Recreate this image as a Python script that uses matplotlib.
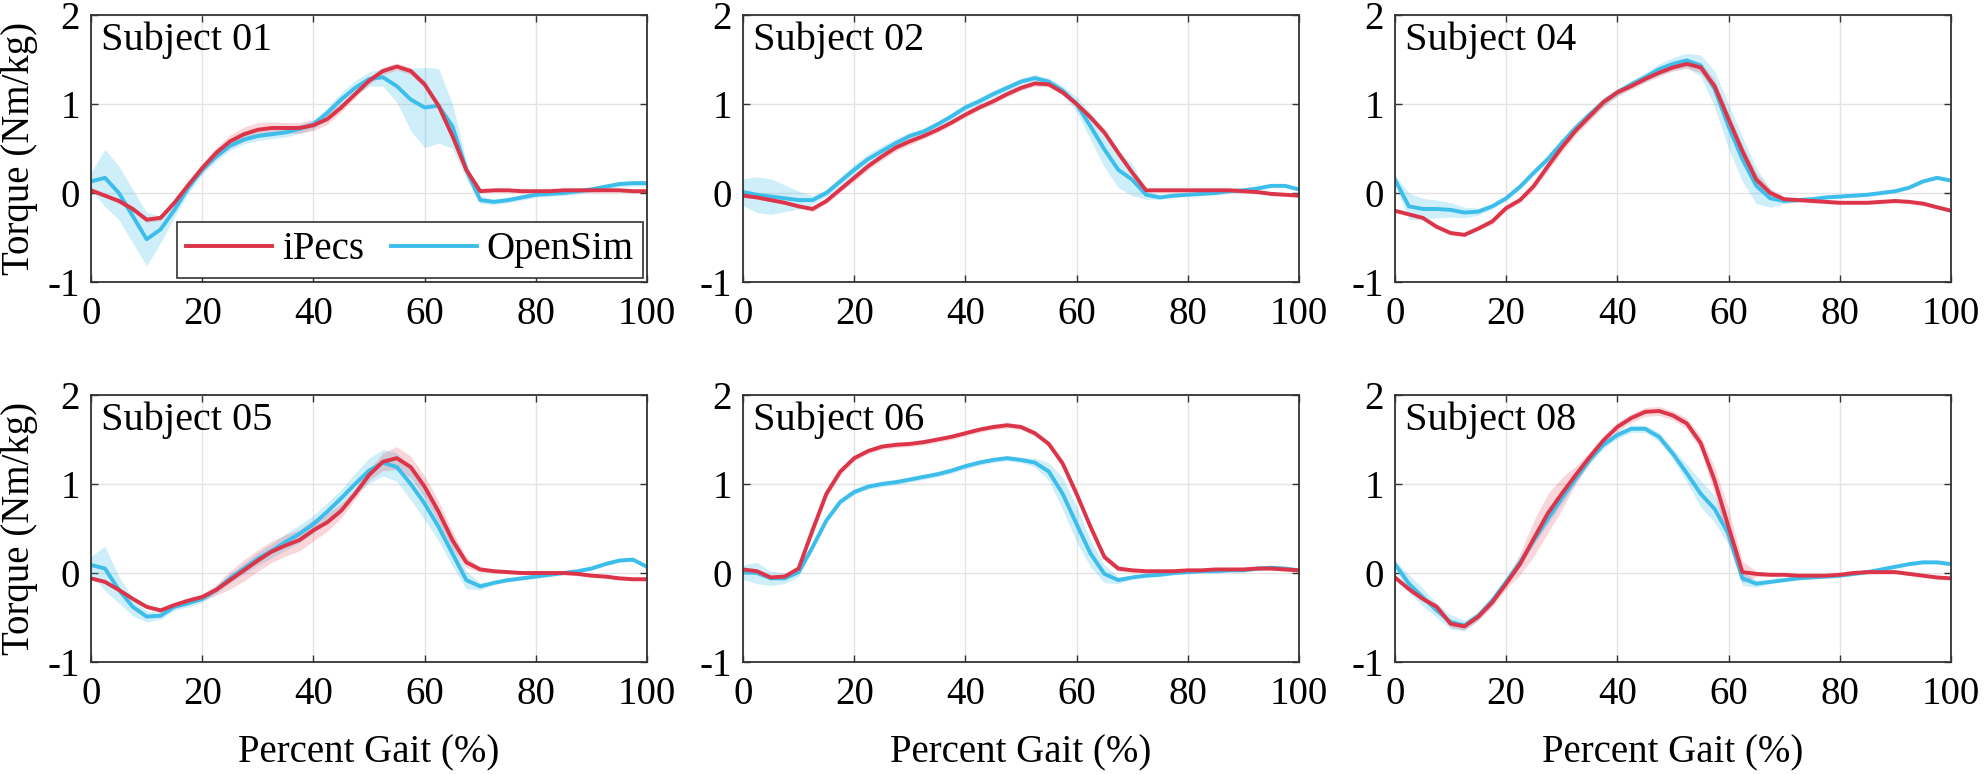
import numpy as np
import matplotlib
matplotlib.use("Agg")
import matplotlib.pyplot as plt

plt.rcParams['font.family'] = ['Liberation Serif', 'DejaVu Serif']
plt.rcParams['font.size'] = 28
plt.rcParams['axes.unicode_minus'] = False

# percent gait grid
pct = [0, 2.5, 5, 7.5, 10, 12.5, 15, 17.5, 20, 22.5,
       25, 27.5, 30, 32.5, 35, 37.5, 40, 42.5, 45, 47.5,
       50, 52.5, 55, 57.5, 60, 62.5, 65, 67.5, 70, 72.5,
       75, 77.5, 80, 82.5, 85, 87.5, 90, 92.5, 95, 97.5,
       100]

subjects = ["Subject 01", "Subject 02", "Subject 04",
            "Subject 05", "Subject 06", "Subject 08"]

# iPecs mean torque (Nm/kg)
ipecs_01 = [0.03, -0.03, -0.09, -0.18, -0.30, -0.28, -0.11, 0.09, 0.28, 0.45,
            0.58, 0.66, 0.71, 0.73, 0.73, 0.73, 0.76, 0.83, 0.96, 1.11,
            1.26, 1.37, 1.42, 1.37, 1.22, 0.98, 0.64, 0.26, 0.02, 0.03,
            0.03, 0.02, 0.02, 0.02, 0.03, 0.03, 0.03, 0.03, 0.03, 0.02,
            0.02]
ipecs_02 = [-0.03, -0.05, -0.08, -0.11, -0.15, -0.18, -0.09, 0.04, 0.17, 0.30,
            0.41, 0.51, 0.58, 0.64, 0.71, 0.79, 0.88, 0.96, 1.03, 1.11,
            1.18, 1.23, 1.22, 1.13, 1.00, 0.85, 0.68, 0.45, 0.23, 0.03,
            0.03, 0.03, 0.03, 0.03, 0.03, 0.03, 0.02, 0.01, -0.01, -0.02,
            -0.03]
ipecs_04 = [-0.20, -0.24, -0.28, -0.38, -0.45, -0.47, -0.40, -0.32, -0.17, -0.08,
            0.08, 0.30, 0.51, 0.70, 0.86, 1.02, 1.13, 1.20, 1.28, 1.35,
            1.41, 1.45, 1.41, 1.20, 0.83, 0.47, 0.15, 0.00, -0.07, -0.08,
            -0.09, -0.10, -0.11, -0.11, -0.11, -0.10, -0.09, -0.10, -0.12, -0.16,
            -0.20]
ipecs_05 = [-0.06, -0.10, -0.19, -0.29, -0.38, -0.42, -0.36, -0.31, -0.27, -0.19,
            -0.08, 0.03, 0.14, 0.24, 0.31, 0.37, 0.48, 0.57, 0.70, 0.89,
            1.10, 1.25, 1.29, 1.19, 0.97, 0.69, 0.37, 0.12, 0.04, 0.02,
            0.01, 0.00, 0.00, 0.00, 0.00, -0.01, -0.03, -0.04, -0.06, -0.07,
            -0.07]
ipecs_06 = [0.04, 0.02, -0.05, -0.04, 0.05, 0.48, 0.89, 1.14, 1.29, 1.37,
            1.42, 1.44, 1.45, 1.47, 1.50, 1.53, 1.57, 1.61, 1.64, 1.66,
            1.64, 1.57, 1.45, 1.23, 0.89, 0.52, 0.18, 0.05, 0.03, 0.02,
            0.02, 0.02, 0.03, 0.03, 0.04, 0.04, 0.04, 0.05, 0.05, 0.04,
            0.03]
ipecs_08 = [-0.05, -0.18, -0.29, -0.38, -0.57, -0.60, -0.49, -0.33, -0.12, 0.10,
            0.39, 0.67, 0.89, 1.10, 1.30, 1.49, 1.64, 1.74, 1.81, 1.82,
            1.77, 1.68, 1.46, 1.04, 0.52, 0.01, -0.01, -0.02, -0.02, -0.03,
            -0.03, -0.03, -0.02, 0.00, 0.01, 0.01, 0.01, -0.01, -0.03, -0.05,
            -0.06]

# OpenSim mean torque (Nm/kg)
osim_01 = [0.13, 0.17, 0.00, -0.26, -0.52, -0.41, -0.19, 0.06, 0.26, 0.41,
           0.53, 0.60, 0.64, 0.66, 0.68, 0.72, 0.77, 0.90, 1.05, 1.18,
           1.28, 1.30, 1.20, 1.05, 0.96, 0.98, 0.75, 0.26, -0.08, -0.10,
           -0.08, -0.05, -0.02, -0.01, 0.00, 0.02, 0.04, 0.07, 0.10, 0.11,
           0.11]
osim_02 = [0.01, -0.02, -0.04, -0.06, -0.08, -0.08, 0.00, 0.13, 0.26, 0.38,
           0.47, 0.56, 0.64, 0.69, 0.77, 0.86, 0.96, 1.03, 1.11, 1.18,
           1.25, 1.29, 1.25, 1.15, 1.00, 0.75, 0.49, 0.26, 0.15, -0.02,
           -0.05, -0.03, -0.02, -0.01, 0.00, 0.02, 0.03, 0.05, 0.08, 0.08,
           0.04]
osim_04 = [0.15, -0.15, -0.18, -0.18, -0.19, -0.22, -0.21, -0.15, -0.06, 0.07,
           0.23, 0.38, 0.56, 0.73, 0.88, 1.02, 1.13, 1.22, 1.30, 1.39,
           1.45, 1.49, 1.43, 1.17, 0.75, 0.38, 0.08, -0.06, -0.09, -0.08,
           -0.07, -0.05, -0.04, -0.03, -0.02, 0.00, 0.02, 0.06, 0.13, 0.17,
           0.14]
osim_05 = [0.09, 0.05, -0.19, -0.38, -0.49, -0.48, -0.38, -0.34, -0.29, -0.19,
           -0.06, 0.05, 0.16, 0.25, 0.35, 0.44, 0.55, 0.69, 0.84, 1.00,
           1.15, 1.24, 1.19, 1.00, 0.78, 0.52, 0.22, -0.08, -0.15, -0.11,
           -0.08, -0.06, -0.04, -0.02, 0.00, 0.02, 0.05, 0.10, 0.14, 0.15,
           0.07]
osim_06 = [0.01, 0.00, -0.06, -0.06, 0.01, 0.29, 0.59, 0.80, 0.91, 0.97,
           1.00, 1.02, 1.05, 1.08, 1.11, 1.15, 1.20, 1.24, 1.27, 1.29,
           1.27, 1.24, 1.14, 0.89, 0.55, 0.22, -0.01, -0.08, -0.05, -0.03,
           -0.02, 0.00, 0.01, 0.02, 0.02, 0.03, 0.03, 0.05, 0.06, 0.05,
           0.03]
osim_08 = [0.10, -0.12, -0.27, -0.42, -0.55, -0.59, -0.48, -0.31, -0.10, 0.12,
           0.37, 0.61, 0.84, 1.06, 1.27, 1.44, 1.55, 1.62, 1.62, 1.53,
           1.34, 1.12, 0.89, 0.72, 0.44, -0.06, -0.12, -0.10, -0.08, -0.06,
           -0.05, -0.04, -0.03, -0.01, 0.01, 0.04, 0.07, 0.10, 0.12, 0.12,
           0.10]

# standard deviation bands
ipecs_sd_01 = [0.02, 0.02, 0.03, 0.03, 0.03, 0.03, 0.03, 0.04, 0.05, 0.06,
               0.07, 0.08, 0.08, 0.07, 0.06, 0.06, 0.06, 0.06, 0.05, 0.04,
               0.04, 0.04, 0.04, 0.04, 0.04, 0.04, 0.04, 0.03, 0.02, 0.02,
               0.02, 0.02, 0.02, 0.02, 0.02, 0.02, 0.02, 0.02, 0.02, 0.02,
               0.02]
ipecs_sd_02 = [0.02, 0.02, 0.02, 0.02, 0.02, 0.03, 0.03, 0.03, 0.04, 0.04,
               0.04, 0.04, 0.04, 0.03, 0.03, 0.03, 0.03, 0.03, 0.03, 0.03,
               0.03, 0.03, 0.03, 0.03, 0.03, 0.04, 0.04, 0.04, 0.03, 0.02,
               0.02, 0.02, 0.02, 0.02, 0.02, 0.02, 0.02, 0.02, 0.02, 0.02,
               0.02]
ipecs_sd_04 = [0.02, 0.02, 0.02, 0.02, 0.02, 0.02, 0.02, 0.03, 0.03, 0.03,
               0.04, 0.05, 0.05, 0.05, 0.05, 0.05, 0.04, 0.04, 0.04, 0.04,
               0.04, 0.05, 0.06, 0.07, 0.07, 0.07, 0.07, 0.05, 0.03, 0.02,
               0.02, 0.02, 0.02, 0.02, 0.02, 0.02, 0.02, 0.02, 0.02, 0.02,
               0.02]
ipecs_sd_05 = [0.02, 0.02, 0.02, 0.02, 0.02, 0.03, 0.03, 0.03, 0.04, 0.06,
               0.10, 0.12, 0.12, 0.12, 0.12, 0.12, 0.12, 0.10, 0.08, 0.06,
               0.06, 0.10, 0.13, 0.12, 0.12, 0.12, 0.10, 0.06, 0.03, 0.02,
               0.02, 0.02, 0.02, 0.02, 0.02, 0.02, 0.02, 0.02, 0.02, 0.02,
               0.02]
ipecs_sd_06 = [0.02, 0.02, 0.02, 0.02, 0.03, 0.05, 0.05, 0.04, 0.03, 0.03,
               0.03, 0.03, 0.03, 0.03, 0.03, 0.03, 0.03, 0.03, 0.03, 0.03,
               0.03, 0.03, 0.03, 0.04, 0.05, 0.05, 0.04, 0.03, 0.02, 0.02,
               0.02, 0.02, 0.02, 0.02, 0.02, 0.02, 0.02, 0.02, 0.02, 0.02,
               0.02]
ipecs_sd_08 = [0.02, 0.03, 0.03, 0.04, 0.04, 0.04, 0.04, 0.05, 0.06, 0.12,
               0.20, 0.22, 0.18, 0.10, 0.06, 0.05, 0.05, 0.05, 0.05, 0.05,
               0.05, 0.06, 0.08, 0.15, 0.20, 0.12, 0.03, 0.02, 0.02, 0.02,
               0.02, 0.02, 0.02, 0.02, 0.02, 0.02, 0.02, 0.02, 0.02, 0.02,
               0.02]

osim_sd_01 = [0.10, 0.32, 0.30, 0.30, 0.30, 0.15, 0.08, 0.06, 0.05, 0.05,
              0.05, 0.05, 0.05, 0.05, 0.05, 0.05, 0.05, 0.06, 0.08, 0.08,
              0.08, 0.10, 0.18, 0.35, 0.45, 0.42, 0.25, 0.10, 0.04, 0.03,
              0.03, 0.03, 0.03, 0.03, 0.03, 0.03, 0.03, 0.03, 0.03, 0.03,
              0.03]
osim_sd_02 = [0.15, 0.20, 0.20, 0.15, 0.10, 0.05, 0.04, 0.05, 0.06, 0.06,
              0.06, 0.05, 0.04, 0.04, 0.04, 0.04, 0.04, 0.04, 0.04, 0.04,
              0.04, 0.04, 0.04, 0.05, 0.08, 0.15, 0.20, 0.20, 0.18, 0.05,
              0.02, 0.02, 0.02, 0.02, 0.02, 0.02, 0.02, 0.02, 0.02, 0.02,
              0.02]
osim_sd_04 = [0.05, 0.15, 0.12, 0.10, 0.08, 0.06, 0.04, 0.03, 0.03, 0.03,
              0.03, 0.05, 0.05, 0.05, 0.05, 0.05, 0.04, 0.04, 0.05, 0.06,
              0.07, 0.08, 0.12, 0.20, 0.25, 0.25, 0.20, 0.10, 0.03, 0.02,
              0.02, 0.02, 0.02, 0.02, 0.02, 0.02, 0.02, 0.02, 0.02, 0.02,
              0.02]
osim_sd_05 = [0.10, 0.25, 0.15, 0.10, 0.06, 0.04, 0.04, 0.04, 0.04, 0.04,
              0.05, 0.06, 0.07, 0.08, 0.09, 0.10, 0.10, 0.10, 0.10, 0.12,
              0.14, 0.15, 0.16, 0.18, 0.18, 0.16, 0.14, 0.10, 0.04, 0.02,
              0.02, 0.02, 0.02, 0.02, 0.02, 0.02, 0.02, 0.02, 0.02, 0.02,
              0.02]
osim_sd_06 = [0.08, 0.12, 0.08, 0.06, 0.05, 0.04, 0.03, 0.03, 0.03, 0.03,
              0.03, 0.03, 0.03, 0.03, 0.03, 0.03, 0.03, 0.03, 0.03, 0.03,
              0.03, 0.05, 0.10, 0.18, 0.20, 0.15, 0.10, 0.04, 0.02, 0.02,
              0.02, 0.02, 0.02, 0.02, 0.02, 0.02, 0.02, 0.02, 0.02, 0.02,
              0.02]
osim_sd_08 = [0.04, 0.10, 0.10, 0.08, 0.08, 0.06, 0.05, 0.05, 0.05, 0.05,
              0.05, 0.06, 0.06, 0.05, 0.05, 0.04, 0.04, 0.04, 0.04, 0.05,
              0.06, 0.10, 0.15, 0.15, 0.12, 0.08, 0.04, 0.02, 0.02, 0.02,
              0.02, 0.02, 0.02, 0.02, 0.02, 0.02, 0.02, 0.02, 0.02, 0.02,
              0.02]

ipecs = [ipecs_01, ipecs_02, ipecs_04, ipecs_05, ipecs_06, ipecs_08]
osim = [osim_01, osim_02, osim_04, osim_05, osim_06, osim_08]
ipecs_sd = [ipecs_sd_01, ipecs_sd_02, ipecs_sd_04, ipecs_sd_05, ipecs_sd_06, ipecs_sd_08]
osim_sd = [osim_sd_01, osim_sd_02, osim_sd_04, osim_sd_05, osim_sd_06, osim_sd_08]

red = "#dc3449"
blue = "#3dbdea"

fig = plt.figure(figsize=(19.84, 7.74), dpi=100)
lefts = [0.0459, 0.3745, 0.7031]
bottoms = [0.6357, 0.1447]
w, h = 0.2802, 0.345

x = np.array(pct)
for i in range(6):
    r, c = divmod(i, 3)
    ax = fig.add_axes([lefts[c], bottoms[r], w, h])
    ip = np.array(ipecs[i])
    os_ = np.array(osim[i])
    ips = np.array(ipecs_sd[i])
    oss = np.array(osim_sd[i])
    ax.fill_between(x, os_ - oss, os_ + oss, color=blue, alpha=0.25, lw=0)
    ax.fill_between(x, ip - ips, ip + ips, color=red, alpha=0.2, lw=0)
    ax.plot(x, os_, color=blue, lw=2.8, label="OpenSim")
    ax.plot(x, ip, color=red, lw=2.8, label="iPecs")
    ax.set_xlim(0, 100)
    ax.set_ylim(-1, 2)
    ax.set_xticks([0, 20, 40, 60, 80, 100])
    ax.set_yticks([-1, 0, 1, 2])
    ax.grid(True, color="#e3e3e3", lw=1)
    ax.set_axisbelow(True)
    for s in ax.spines.values():
        s.set_color("#333333")
        s.set_linewidth(1.3)
    ax.tick_params(direction="in", length=5, width=1, top=True, right=True,
                   colors="#333333", labelcolor="black")
    ax.tick_params(axis="x", pad=10)
    ax.tick_params(axis="y", pad=8)
    ax.text(0.018, 0.975, subjects[i], transform=ax.transAxes,
            ha="left", va="top", fontsize=29)
    if c == 0:
        ax.set_ylabel("Torque (Nm/kg)")
        ax.yaxis.set_label_coords(-0.095, 0.5)
    if r == 1:
        ax.set_xlabel("Percent Gait (%)")
        ax.xaxis.set_label_coords(0.5, -0.27)
    if i == 0:
        handles, labels = ax.get_legend_handles_labels()
        leg = ax.legend(handles[::-1], labels[::-1], ncol=2, loc="lower right",
                        bbox_to_anchor=(0.993, 0.015), borderaxespad=0,
                        frameon=True, fancybox=False, edgecolor="#333333",
                        framealpha=1, handlelength=2.2, columnspacing=0.7,
                        handletextpad=0.25, borderpad=0.25)
        leg.get_frame().set_linewidth(1.2)

fig.savefig("out.png", dpi=100)
